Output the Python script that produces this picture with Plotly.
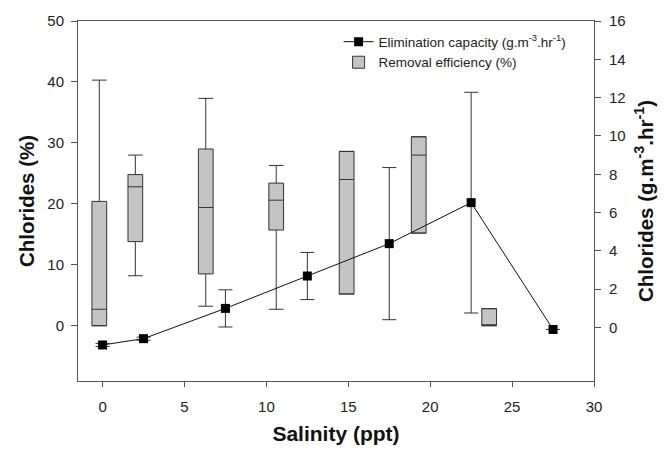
import plotly.graph_objects as go

# Removal efficiency boxes (left axis, %)
box_x = [-0.2, 2.0, 6.3, 10.6, 14.9, 19.3, 23.6]
box_lower = [0.0, 8.2, 3.2, 2.7, 5.2, 15.2, 0.0]
box_q1 = [0.0, 13.8, 8.5, 15.7, 5.2, 15.2, 0.0]
box_median = [2.7, 22.8, 19.4, 20.6, 24.0, 28.0, 0.0]
box_q3 = [20.4, 24.8, 29.0, 23.4, 28.6, 31.0, 2.8]
box_upper = [40.3, 28.0, 37.3, 26.3, 28.6, 31.0, 2.8]

# Elimination capacity (right axis)
ec_x = [0, 2.5, 7.5, 12.5, 17.5, 22.5, 27.5]
ec_y = [-0.91, -0.58, 1.0, 2.69, 4.38, 6.52, -0.1]
ec_err = [0.08, 0.08, 0.97, 1.23, 3.97, 5.76, 0.0]

x_ticks = [0, 5, 10, 15, 20, 25, 30]
y_ticks = [0, 10, 20, 30, 40, 50]
y2_ticks = [0, 2, 4, 6, 8, 10, 12, 14, 16]

FONT = "Liberation Sans, Arial, sans-serif"
AX = "#555555"

fig = go.Figure()
fig.add_trace(go.Box(
    x=box_x, q1=box_q1, median=box_median, q3=box_q3,
    lowerfence=box_lower, upperfence=box_upper,
    width=0.9, whiskerwidth=1,
    fillcolor="#c4c4c4", line=dict(color="#333333", width=1),
    name="Removal efficiency (%)", boxpoints=False, yaxis="y", legendrank=2,
))
fig.add_trace(go.Scatter(
    x=ec_x, y=ec_y, mode="lines+markers", yaxis="y2", legendrank=1,
    line=dict(color="#111111", width=1),
    marker=dict(symbol="square", size=9, color="black"),
    error_y=dict(type="data", array=ec_err, visible=True, color="#333333", thickness=1, width=7),
    name="Elimination capacity (g.m<sup>-3</sup>.hr<sup>-1</sup>)",
))

fig.update_layout(
    width=662, height=443,
    margin=dict(l=70, r=76, t=13, b=70),
    plot_bgcolor="white", paper_bgcolor="white",
    font=dict(family=FONT, color="#222222", size=15),
    showlegend=True,
    legend=dict(x=0.505, y=0.985, xanchor="left", yanchor="top",
                bgcolor="rgba(0,0,0,0)", font=dict(size=13.5, color="#222222"),
                traceorder="normal", tracegroupgap=0),
    xaxis=dict(range=[-1.5, 30], tickvals=x_ticks, showgrid=False, zeroline=False,
               showline=True, linecolor=AX, linewidth=1, mirror=True, automargin=False,
               ticks="outside", ticklen=5, tickcolor=AX, ticklabelstandoff=7,
               title=dict(text="<b>Salinity (ppt)</b>", font=dict(size=21, color="#111111"), standoff=12)),
    yaxis=dict(range=[-9.07, 50], tickvals=y_ticks, showgrid=False, zeroline=False,
               showline=True, linecolor=AX, linewidth=1, automargin=False,
               ticks="outside", ticklen=6, tickcolor=AX, ticklabelstandoff=4,
               title=dict(text="<b>Chlorides (%)</b>", font=dict(size=20.5, color="#111111"), standoff=7)),
    yaxis2=dict(range=[-2.79, 16], tickvals=y2_ticks, overlaying="y", side="right",
                showgrid=False, zeroline=False, showline=True, linecolor=AX, linewidth=1,
                automargin=False, ticks="outside", ticklen=6, tickcolor=AX, ticklabelstandoff=5,
                title=dict(text="<b>Chlorides (g.m<sup>-3</sup>.hr<sup>-1</sup>)</b>",
                           font=dict(size=20.5, color="#111111"), standoff=13)),
)

fig.write_html("out.html")
